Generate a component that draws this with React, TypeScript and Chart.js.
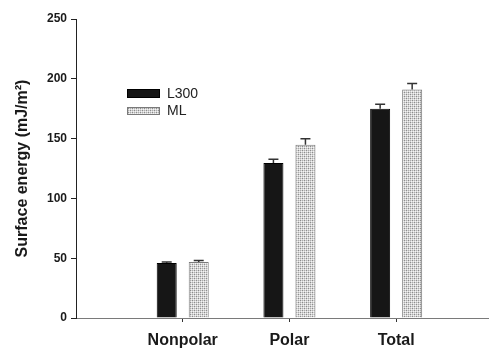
import React, { useEffect, useRef } from 'react';
import { Chart, registerables } from 'chart.js';

Chart.register(...registerables);

const categories = ['Nonpolar', 'Polar', 'Total'];
const categoryPositions = [1, 2, 3];
const seriesLabels = ['L300', 'ML'];
const l300Values = [46, 129.5, 175];
const l300Errors = [0.8, 3.3, 3.7];
const mlValues = [46.8, 144.8, 191];
const mlErrors = [1.3, 5, 5];
const yTickValues = [0, 50, 100, 150, 200, 250];

function makePattern(): CanvasPattern | string {
  const c = document.createElement('canvas');
  c.width = 4;
  c.height = 4;
  const g = c.getContext('2d');
  if (!g) return '#c8c8c8';
  g.fillStyle = '#d4d4d4';
  g.fillRect(0, 0, 4, 4);
  g.fillStyle = '#8c8c8c';
  g.fillRect(0, 0, 1, 1);
  g.fillRect(2, 2, 1, 1);
  g.fillStyle = '#acacac';
  g.fillRect(2, 0, 1, 1);
  g.fillRect(0, 2, 1, 1);
  g.fillStyle = '#f4f4f4';
  g.fillRect(1, 1, 1, 1);
  g.fillRect(3, 3, 1, 1);
  g.fillRect(1, 3, 1, 1);
  g.fillRect(3, 1, 1, 1);
  const p = g.createPattern(c, 'repeat');
  return p || '#c8c8c8';
}

const errorBarPlugin = {
  id: 'errorBars',
  afterDatasetsDraw(chart: any) {
    const ctx = chart.ctx;
    const yScale = chart.scales.y;
    chart.data.datasets.forEach((ds: any, di: number) => {
      const meta = chart.getDatasetMeta(di);
      const errs: number[] = ds.errors || [];
      meta.data.forEach((el: any, i: number) => {
        const v = ds.data[i].y;
        const top = yScale.getPixelForValue(v + errs[i]);
        ctx.save();
        ctx.strokeStyle = '#333333';
        ctx.lineWidth = 1.5;
        ctx.beginPath();
        ctx.moveTo(el.x, el.y);
        ctx.lineTo(el.x, top);
        ctx.moveTo(el.x - 5, top);
        ctx.lineTo(el.x + 5, top);
        ctx.stroke();
        ctx.restore();
      });
    });
  },
};

const legendPlugin = {
  id: 'insideLegend',
  afterDraw(chart: any) {
    const ctx = chart.ctx;
    const rows = [
      { y: 89, h: 9 },
      { y: 107, h: 8 },
    ];
    chart.data.datasets.forEach((ds: any, i: number) => {
      const r = rows[i];
      ctx.save();
      ctx.fillStyle = ds.backgroundColor;
      ctx.fillRect(127, r.y, 33, r.h);
      ctx.strokeStyle = ds.borderColor;
      ctx.lineWidth = 1;
      ctx.strokeRect(127.5, r.y + 0.5, 32, r.h - 1);
      ctx.fillStyle = '#222222';
      ctx.font = '14px "Liberation Sans", Arial, sans-serif';
      ctx.textBaseline = 'middle';
      ctx.textAlign = 'left';
      ctx.fillText(ds.label, 167, r.y + r.h / 2 + 0.5);
      ctx.restore();
    });
  },
};

export default function App() {
  const ref = useRef<HTMLCanvasElement | null>(null);

  useEffect(() => {
    if (!ref.current) return;
    const pattern = makePattern();
    const chart = new Chart(ref.current, {
      type: 'bar',
      data: {
        datasets: [
          {
            label: seriesLabels[0],
            data: categoryPositions.map((x, i) => ({ x, y: l300Values[i] })),
            backgroundColor: '#161616',
            borderColor: '#000000',
            borderWidth: 1,
            errors: l300Errors,
          } as any,
          {
            label: seriesLabels[1],
            data: categoryPositions.map((x, i) => ({ x, y: mlValues[i] })),
            backgroundColor: pattern,
            borderColor: '#7a7a7a',
            borderWidth: 1,
            errors: mlErrors,
          } as any,
        ],
      },
      options: {
        animation: false,
        responsive: false,
        datasets: { bar: { categoryPercentage: 0.6, barPercentage: 0.625 } },
        layout: { padding: { top: 19, right: 0, left: 0, bottom: 0 } },
        plugins: { legend: { display: false }, tooltip: { enabled: false } },
        scales: {
          x: {
            type: 'linear',
            min: 0,
            max: 3.87,
            offset: false,
            afterBuildTicks: (s: any) => {
              s.ticks = categoryPositions.map((v) => ({ value: v }));
            },
            afterFit: (s: any) => {
              s.height = 30;
            },
            grid: { display: true, offset: false, drawOnChartArea: false, drawTicks: true, tickLength: 4, color: '#333333' },
            border: { display: true, color: '#7a7a7a', width: 1 },
            ticks: {
              padding: 9,
              autoSkip: false,
              maxRotation: 0,
              color: '#1a1a1a',
              font: { family: '"Liberation Sans", Arial, sans-serif', size: 16, weight: 'bold' },
              callback: (v: any) => {
                const i = categoryPositions.indexOf(Number(v));
                return i >= 0 ? categories[i] : '';
              },
            },
          },
          y: {
            min: 0,
            max: 250,
            afterBuildTicks: (s: any) => {
              s.ticks = yTickValues.map((v) => ({ value: v }));
            },
            afterFit: (s: any) => {
              s.width = 76;
            },
            grid: { display: true, drawOnChartArea: false, drawTicks: true, tickLength: 5, color: '#222222' },
            border: { display: true, color: '#222222', width: 1 },
            ticks: {
              padding: 4,
              color: '#1a1a1a',
              font: { family: '"Liberation Sans", Arial, sans-serif', size: 12, weight: 'bold' },
            },
            title: {
              display: true,
              text: 'Surface energy (mJ/m²)',
              color: '#1a1a1a',
              font: { family: '"Liberation Sans", Arial, sans-serif', size: 16, weight: 'bold' },
              padding: { top: 13, bottom: 0 },
            },
          },
        },
      },
      plugins: [errorBarPlugin, legendPlugin],
    });
    return () => chart.destroy();
  }, []);

  return (
    <div style={{ position: 'fixed', left: 0, top: 0, width: 489, height: 348, background: '#ffffff' }}>
      <canvas ref={ref} width={489} height={348} style={{ display: 'block', width: 489, height: 348 }} />
    </div>
  );
}
